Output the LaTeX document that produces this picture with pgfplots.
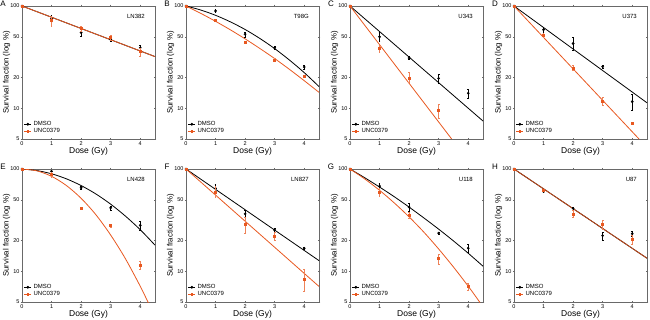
\documentclass[border=0pt]{standalone}
\usepackage{fontspec}
\setmainfont{Liberation Sans}
\usepackage{pgfplots}
\pgfplotsset{compat=1.18}
\usepgfplotslibrary{groupplots}
\definecolor{unc}{RGB}{232,88,32}
\definecolor{axgray}{RGB}{105,105,105}
\pgfplotsset{
  sfaxis/.style={
    scale only axis, width=133pt, height=133pt,
    ymode=log, xmin=0, xmax=4.5, ymin=5, ymax=100,
    xtick={0,1,2,3,4}, xticklabels={0,1,2,3,4},
    ytick={5,10,20,50,100}, yticklabels={5,10,20,50,100},
    yminorticks=false, xminorticks=false,
    /pgf/number format/assume math mode=true,
    axis line style={axgray, line width=0.6pt},
    every tick/.style={axgray, line width=0.5pt},
    tick align=center, major tick length=2.5pt,
    tick label style={font=\fontsize{5.5}{6}\selectfont},
    yticklabel style={inner sep=1pt},
    xticklabel style={inner sep=1.2pt},
    xlabel={Dose (Gy)}, ylabel={Survival fraction (log \%)},
    xlabel style={font=\fontsize{8.5}{9}\selectfont, at={(axis description cs:0.5,-0.092)}, anchor=center},
    ylabel style={font=\fontsize{7.8}{8}\selectfont, at={(axis description cs:-0.115,0.5)}, anchor=center},
    clip=true, clip mode=individual,
    legend style={draw=none, fill=none, at={(0.01,0.015)}, anchor=south west,
      font=\fontsize{6}{6.5}\selectfont, row sep=-2.5pt, inner sep=0.5pt,
      /tikz/every even column/.append style={column sep=1pt}},
    legend cell align=left,
    legend image code/.code={\draw[mark repeat=2,mark phase=2,#1] plot coordinates {(0pt,0pt) (3.5pt,0pt) (7pt,0pt)};},
  },
  fitD/.style={black, line width=0.8pt, no markers, smooth, forget plot},
  fitU/.style={unc, line width=0.8pt, no markers, smooth, forget plot},
  ptsD/.style={black, only marks, mark=*, mark size=1.15pt, forget plot,
    error bars/.cd, y dir=both, y explicit,
    error bar style={black, line width=0.4pt}, error mark options={rotate=90, mark size=0.9pt, black}},
  ptsU/.style={unc, only marks, mark=square*, mark size=1.0pt, forget plot,
    error bars/.cd, y dir=both, y explicit,
    error bar style={unc!75, line width=0.4pt}, error mark options={rotate=90, mark size=0.9pt, unc!75}},
  legD/.style={black, line width=0.6pt, mark=*, mark size=1.1pt},
  legU/.style={unc, line width=0.6pt, mark=square*, mark size=0.95pt},
}
\newcommand{\panelname}[2]{%
  \node[anchor=east, font=\fontsize{6}{7}\selectfont] at (rel axis cs:0.95,0.92) {#1};
  \node[font=\fontsize{8}{9}\selectfont, xshift=-19pt, yshift=2pt] at (rel axis cs:0,1) {#2};
  \addlegendimage{legD}\addlegendentry{DMSO}
  \addlegendimage{legU}\addlegendentry{UNC0379}
}
\begin{document}
\begin{tikzpicture}
\begin{groupplot}[group style={group size=4 by 2, horizontal sep=31pt, vertical sep=30pt}, sfaxis]
% ---------- A LN382
\nextgroupplot
\coordinate (tl) at (rel axis cs:0,1);
\addplot[fitD] coordinates {(0,100) (4.5,32)};
\addplot[fitU] coordinates {(0,100) (4.5,32)};
\addplot[ptsD] table[x=x,y=y,y error plus=ep,y error minus=em,row sep=\\] {x y ep em\\ 0 100 0 0\\ 1 75 6 6\\ 2 55 4 4\\ 3 47 2 2\\ 4 39 2 2\\};
\addplot[ptsU] table[x=x,y=y,y error plus=ep,y error minus=em,row sep=\\] {x y ep em\\ 0 100 0 0\\ 1 72 8 8\\ 2 60 3 3\\ 3 49 3 3\\ 4 36 3 4\\};
\panelname{LN382}{A}
% ---------- B T98G
\nextgroupplot
\addplot[fitD] coordinates {(0,100) (0.5,91.3) (1,81.1) (1.5,70.0) (2,58.9) (2.5,48.1) (3,38.3) (3.5,29.6) (4,22.3) (4.5,16.3)};
\addplot[fitU] coordinates {(0,100) (0.5,84.7) (1,70.8) (1.5,58.5) (2,47.7) (2.5,38.4) (3,30.6) (3.5,24.0) (4,18.6) (4.5,14.3)};
\addplot[ptsD] table[x=x,y=y,y error plus=ep,y error minus=em,row sep=\\] {x y ep em\\ 0 100 0 0\\ 1 89.5 3 3\\ 2 53 3 3\\ 3 39 1.5 1.5\\ 4 25.3 1 1\\};
\addplot[ptsU] table[x=x,y=y,y error plus=ep,y error minus=em,row sep=\\] {x y ep em\\ 0 100 0 0\\ 1 72.6 2 2\\ 2 44.5 1 1\\ 3 29.6 1 1\\ 4 20.7 0.5 0.5\\};
\panelname{T98G}{B}
% ---------- C U343
\nextgroupplot
\addplot[fitD] coordinates {(0,100) (4.5,7.5)};
\addplot[fitU] coordinates {(0,100) (3.44,5)};
\addplot[ptsD] table[x=x,y=y,y error plus=ep,y error minus=em,row sep=\\] {x y ep em\\ 0 100 0 0\\ 1 50 5 5\\ 2 31 1 1\\ 3 19.6 2 2\\ 4 14 1.5 1.5\\};
\addplot[ptsU] table[x=x,y=y,y error plus=ep,y error minus=em,row sep=\\] {x y ep em\\ 0 100 0 0\\ 1 38.6 3 3\\ 2 19.8 2.5 2\\ 3 9.55 1.5 1.5\\};
\panelname{U343}{C}
% ---------- D U373
\nextgroupplot
\addplot[fitD] coordinates {(0,100) (4.5,11.3)};
\addplot[fitU] coordinates {(0,100) (4.23,5)};
\addplot[ptsD] table[x=x,y=y,y error plus=ep,y error minus=em,row sep=\\] {x y ep em\\ 0 100 0 0\\ 1 58.6 3 3\\ 2 43 6 6\\ 3 25.5 1 1\\ 4 11.6 2 2\\};
\addplot[ptsU] table[x=x,y=y,y error plus=ep,y error minus=em,row sep=\\] {x y ep em\\ 0 100 0 0\\ 1 51.9 2 2\\ 2 24.8 1.5 1.5\\ 3 11.8 1 1\\ 4 7.1 0 0\\};
\panelname{U373}{D}
% ---------- E LN428
\nextgroupplot
\addplot[fitD] coordinates {(0,100) (0.5,96.6) (1,89.8) (1.5,80.2) (2,68.9) (2.5,57.0) (3,45.3) (3.5,34.6) (4,25.5) (4.5,18.0)};
\addplot[fitU] coordinates {(0,100) (0.5,96.0) (1,84.8) (1.5,69.0) (2,51.7) (2.5,35.7) (3,22.6) (3.5,13.25) (4,7.14) (4.25,5.08) (4.3,4.73)};
\addplot[ptsD] table[x=x,y=y,y error plus=ep,y error minus=em,row sep=\\] {x y ep em\\ 0 100 0 0\\ 1 95 3 3\\ 2 65.5 2 2\\ 3 41.7 2 2\\ 4 28.1 3 3\\};
\addplot[ptsU] table[x=x,y=y,y error plus=ep,y error minus=em,row sep=\\] {x y ep em\\ 0 100 0 0\\ 1 89 5 5\\ 2 41.7 0.5 0.5\\ 3 27.9 1 1\\ 4 11.4 1 1\\};
\panelname{LN428}{E}
% ---------- F LN827
\nextgroupplot
\addplot[fitD] coordinates {(0,100) (4.5,12.7)};
\addplot[fitU] coordinates {(0,100) (4.5,7.1)};
\addplot[ptsD] table[x=x,y=y,y error plus=ep,y error minus=em,row sep=\\] {x y ep em\\ 0 100 0 0\\ 1 64.5 7 7\\ 2 36.4 3 3\\ 3 25.3 1 1\\ 4 16.8 0.5 0.5\\};
\addplot[ptsU] table[x=x,y=y,y error plus=ep,y error minus=em,row sep=\\] {x y ep em\\ 0 100 0 0\\ 1 59.8 8 7\\ 2 28.6 5 5\\ 3 21.9 2 2\\ 4 8.4 2 2\\};
\panelname{LN827}{F}
% ---------- G U118
\nextgroupplot
\addplot[fitD] coordinates {(0,100) (0.5,82.1) (1,66.6) (1.5,53.5) (2,42.4) (2.5,33.2) (3,25.8) (3.5,19.8) (4,15.0) (4.5,11.2)};
\addplot[fitU] coordinates {(0,100) (0.5,79.9) (1,61.9) (1.5,46.5) (2,34.0) (2.5,24.1) (3,16.5) (3.5,11.0) (4,7.14) (4.33,5.27) (4.4,4.93)};
\addplot[ptsD] table[x=x,y=y,y error plus=ep,y error minus=em,row sep=\\] {x y ep em\\ 0 100 0 0\\ 1 67.9 4 4\\ 2 42.4 4 4\\ 3 23.6 0.5 0.5\\ 4 16.8 1.5 1.5\\};
\addplot[ptsU] table[x=x,y=y,y error plus=ep,y error minus=em,row sep=\\] {x y ep em\\ 0 100 0 0\\ 1 59.7 5 5\\ 2 35.6 2.5 2.5\\ 3 13.3 1.5 1.5\\ 4 7.1 0.6 0.6\\};
\panelname{U118}{G}
% ---------- H U87
\nextgroupplot
\addplot[fitD] coordinates {(0,100) (4.5,13.4)};
\addplot[fitU, unc!85!black] coordinates {(0,100) (4.5,13.4)};
\addplot[ptsD] table[x=x,y=y,y error plus=ep,y error minus=em,row sep=\\] {x y ep em\\ 0 100 0 0\\ 1 60.2 1.5 1.5\\ 2 41.2 1.5 1.5\\ 3 22.3 2 2\\ 4 23.3 1.5 1.5\\};
\addplot[ptsU] table[x=x,y=y,y error plus=ep,y error minus=em,row sep=\\] {x y ep em\\ 0 100 0 0\\ 1 62 1.5 1.5\\ 2 36.5 3 3\\ 3 28.6 3 3\\ 4 20.4 2 2\\};
\panelname{U87}{H}
\coordinate (br) at (rel axis cs:1,0);
\end{groupplot}
\pgfresetboundingbox
\path ([xshift=-22pt,yshift=6pt]tl) rectangle ([xshift=3pt,yshift=-17pt]br);
\end{tikzpicture}
\end{document}
